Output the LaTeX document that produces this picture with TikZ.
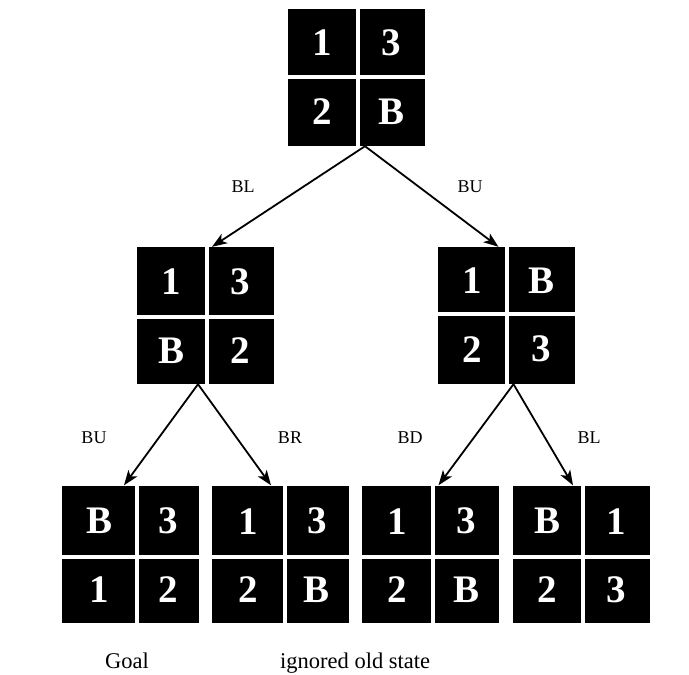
\documentclass[tikz,border=0pt]{standalone}
\usepackage{fontspec}
\setmainfont{Liberation Serif}
\usetikzlibrary{arrows.meta,calc}

\tikzset{
  board/.style={fill=black, inner sep=0pt, minimum size=137pt},
  gap/.style={white, line width=3.5pt},
  tile/.style={white, font=\fontsize{39}{39}\selectfont\bfseries, inner sep=0pt},
  move/.style={font=\fontsize{18}{18}\selectfont},
  caption/.style={font=\fontsize{22.5}{22.5}\selectfont, anchor=base west, inner sep=0pt},
  arr/.style={-{Stealth[length=15pt,width=11pt,inset=4pt]}, line width=1.8pt}
}

% #1 name, (#2,#3) centre, (#4,#5) cross, #6-#9 tiles
\newcommand{\puzzle}[9]{%
  \node[board] (#1) at (#2,#3) {};
  \coordinate (#1-c) at (#4,#5);
  \draw[gap] (#1-c |- #1.north) -- (#1-c |- #1.south);
  \draw[gap] (#1-c -| #1.west) -- (#1-c -| #1.east);
  \node[tile] (#1-tl) at ($(#1.north west)!.5!(#1-c)$) {#6};
  \node[tile] (#1-tr) at ($(#1.north east)!.5!(#1-c)$) {#7};
  \node[tile] (#1-bl) at ($(#1.south west)!.5!(#1-c)$) {#8};
  \node[tile] (#1-br) at ($(#1.south east)!.5!(#1-c)$) {#9};
}

\begin{document}
\begin{tikzpicture}[x=1pt,y=-1pt]
\useasboundingbox (0,0) rectangle (689,675);
\puzzle{root}{356}{77.5}{358}{77}{1}{3}{2}{B}
\puzzle{left}{205}{315.5}{207}{317}{1}{3}{B}{2}
\puzzle{right}{506.5}{315.5}{507}{314}{1}{B}{2}{3}
\puzzle{goal}{130}{554}{137}{557}{B}{3}{1}{2}
\puzzle{lbr}{280}{554}{285}{557}{1}{3}{2}{B}
\puzzle{old}{430.5}{554}{433}{557}{1}{3}{2}{B}
\puzzle{rbl}{581}{554}{583}{557}{B}{1}{2}{3}
% moves
\draw[arr] ([xshift=9pt]root.south) -- ([xshift=7pt]left.north);
\draw[arr] ([xshift=9pt]root.south) -- ([xshift=-8pt]right.north);
\draw[arr] ([xshift=-7pt]left.south) -- ([xshift=-6pt]goal.north);
\draw[arr] ([xshift=-7pt]left.south) -- ([xshift=-9pt]lbr.north);
\draw[arr] ([xshift=7pt]right.south) -- ([xshift=8pt]old.north);
\draw[arr] ([xshift=7pt]right.south) -- ([xshift=-8pt]rbl.north);
\node[move] (m1) at (243,187) {BL};
\node[move] (m2) at (470,187) {BU};
\node[move] (m3) at (94,438) {BU};
\node[move] (m4) at (290,438) {BR};
\node[move] (m5) at (410,438) {BD};
\node[move] (m6) at (589,438) {BL};
\node[caption] (c1) at (105,668) {Goal};
\node[caption] (c2) at (280,668) {ignored old state};
\end{tikzpicture}
\end{document}
